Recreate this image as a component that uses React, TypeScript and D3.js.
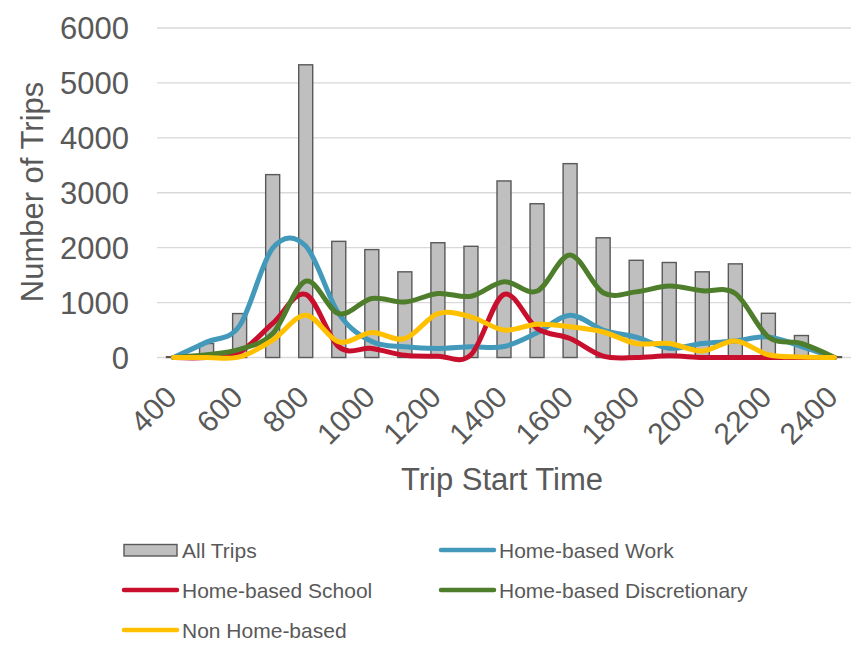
import React from "react";
import * as d3 from "d3";

const categories = [400, 500, 600, 700, 800, 900, 1000, 1100, 1200, 1300, 1400, 1500, 1600, 1700, 1800, 1900, 2000, 2100, 2200, 2300, 2400];
const xTickLabels = [400, 600, 800, 1000, 1200, 1400, 1600, 1800, 2000, 2200, 2400];
const yTicks = [0, 1000, 2000, 3000, 4000, 5000, 6000];

const allTrips = [15, 255, 800, 3330, 5330, 2115, 1965, 1560, 2090, 2025, 3215, 2800, 3530, 2180, 1770, 1730, 1560, 1705, 805, 400, 15];
const homeWork = [0, 280, 580, 1990, 2030, 800, 290, 195, 165, 195, 200, 450, 770, 500, 370, 170, 255, 300, 375, 200, 0];
const homeSchool = [0, 0, 100, 620, 1150, 195, 165, 40, 25, 50, 1150, 530, 345, 25, 0, 30, 0, 0, 0, 0, 0];
const homeDisc = [0, 50, 150, 435, 1390, 800, 1075, 1010, 1165, 1115, 1380, 1210, 1865, 1180, 1195, 1300, 1215, 1165, 375, 255, 0];
const nonHome = [0, 0, 10, 315, 770, 285, 455, 345, 800, 740, 500, 605, 560, 465, 255, 255, 120, 300, 50, 10, 0];

const lineSeries = [
  { name: "Home-based Work", values: homeWork, color: "#4399BA" },
  { name: "Home-based School", values: homeSchool, color: "#C8102E" },
  { name: "Home-based Discretionary", values: homeDisc, color: "#4E7D2B" },
  { name: "Non Home-based", values: nonHome, color: "#FFC000" },
];

const TEXT = "#595959";
const FONT = "'Liberation Sans', Arial, sans-serif";

export default function App() {
  const W = 858, H = 648;
  const x = d3.scaleBand<number>().domain(categories).range([157, 851]).padding(0);
  const y = d3.scaleLinear().domain([0, 6000]).range([357.5, 28]);
  const bw = x.bandwidth();
  const cx = (c: number) => (x(c) as number) + bw / 2;
  const barW = 14;

  const line = d3
    .line<number>()
    .x((_, i) => cx(categories[i]))
    .y((v) => y(v))
    .curve(d3.curveCardinal.tension(0));

  const legendItems = [
    { kind: "bar", name: "All Trips", color: "#BFBFBF", lx: 124, ly: 550 },
    { kind: "line", name: lineSeries[0].name, color: lineSeries[0].color, lx: 441, ly: 550 },
    { kind: "line", name: lineSeries[1].name, color: lineSeries[1].color, lx: 124, ly: 590 },
    { kind: "line", name: lineSeries[2].name, color: lineSeries[2].color, lx: 441, ly: 590 },
    { kind: "line", name: lineSeries[3].name, color: lineSeries[3].color, lx: 124, ly: 630 },
  ];

  return (
    <div style={{ position: "absolute", left: 0, top: 0 }}>
      <svg width={W} height={H} style={{ display: "block", background: "#fff" }} fontFamily={FONT}>
        {yTicks.map((t) => (
          <line key={"g" + t} x1={157} x2={851} y1={y(t)} y2={y(t)} stroke="#D9D9D9" strokeWidth={1.4} />
        ))}
        {yTicks.map((t) => (
          <text key={"yt" + t} x={129} y={y(t)} dy="0.36em" textAnchor="end" fontSize={31} fill={TEXT}>
            {t}
          </text>
        ))}
        {allTrips.map((v, i) => (
          <rect
            key={"b" + i}
            x={cx(categories[i]) - barW / 2}
            y={y(v)}
            width={barW}
            height={y(0) - y(v)}
            fill="#BFBFBF"
            stroke="#595959"
            strokeWidth={1.4}
          />
        ))}
        {lineSeries.map((s) => (
          <path key={s.name} d={line(s.values) || ""} fill="none" stroke={s.color} strokeWidth={5} strokeLinecap="round" strokeLinejoin="round" />
        ))}
        {xTickLabels.map((c) => (
          <text
            key={"xt" + c}
            transform={`translate(${cx(c) + 5},${399}) rotate(-45)`}
            textAnchor="end"
            fontSize={30}
            fill={TEXT}
          >
            {c}
          </text>
        ))}
        <text x={502} y={490} textAnchor="middle" fontSize={31} fill={TEXT}>
          Trip Start Time
        </text>
        <text transform="translate(43,192) rotate(-90)" textAnchor="middle" fontSize={31} fill={TEXT}>
          Number of Trips
        </text>
        {legendItems.map((it) => (
          <g key={it.name}>
            {it.kind === "bar" ? (
              <rect x={it.lx} y={it.ly - 5.5} width={53} height={11.5} fill={it.color} stroke="#595959" strokeWidth={1.4} />
            ) : (
              <line x1={it.lx} x2={it.lx + 53} y1={it.ly} y2={it.ly} stroke={it.color} strokeWidth={4.5} strokeLinecap="round" />
            )}
            <text x={it.lx + 58} y={it.ly + 7.5} fontSize={21} fill={TEXT}>
              {it.name}
            </text>
          </g>
        ))}
      </svg>
    </div>
  );
}
